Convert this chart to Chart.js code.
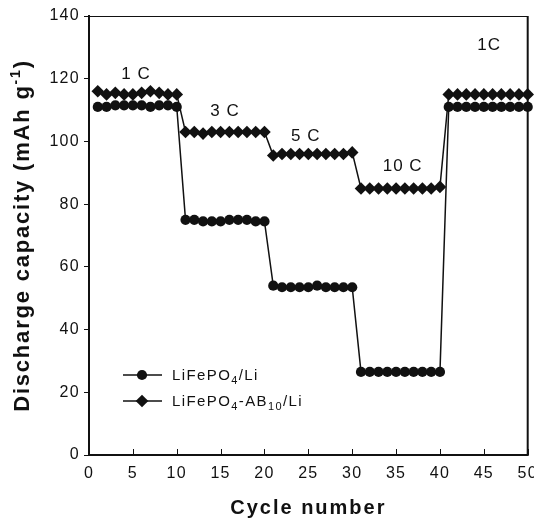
<!DOCTYPE html>
<html>
<head>
<meta charset="utf-8">
<script src="https://cdn.jsdelivr.net/npm/chart.js@4.4.1/dist/chart.umd.min.js"></script>
<style>
html, body { margin: 0; padding: 0; background: #fff; }
#wrap { width: 534px; height: 519px; position: relative; }
</style>
</head>
<body>
<div id="wrap"><canvas id="chart"></canvas></div>
<script>
// cycle numbers 1..50
const cycles = [
    1, 2, 3, 4, 5, 6, 7, 8, 9, 10,
    11, 12, 13, 14, 15, 16, 17, 18, 19, 20,
    21, 22, 23, 24, 25, 26, 27, 28, 29, 30,
    31, 32, 33, 34, 35, 36, 37, 38, 39, 40,
    41, 42, 43, 44, 45, 46, 47, 48, 49, 50
];
// LiFePO4/Li (circles)
const bareCapacity = [
    111, 111, 111.5, 111.5, 111.5, 111.5, 111, 111.5, 111.5, 111,
    75, 75, 74.5, 74.5, 74.5, 75, 75, 75, 74.5, 74.5,
    54, 53.5, 53.5, 53.5, 53.5, 54, 53.5, 53.5, 53.5, 53.5,
    26.5, 26.5, 26.5, 26.5, 26.5, 26.5, 26.5, 26.5, 26.5, 26.5,
    111, 111, 111, 111, 111, 111, 111, 111, 111, 111
];
// LiFePO4-AB10/Li (diamonds)
const abCapacity = [
    116, 115, 115.5, 115, 115, 115.5, 116, 115.5, 115, 115,
    103, 103, 102.5, 103, 103, 103, 103, 103, 103, 103,
    95.5, 96, 96, 96, 96, 96, 96, 96, 96, 96.5,
    85, 85, 85, 85, 85, 85, 85, 85, 85, 85.5,
    115, 115, 115, 115, 115, 115, 115, 115, 115, 115
];
const xTicks = [0, 5, 10, 15, 20, 25, 30, 35, 40, 45, 50];
const yTicks = [0, 20, 40, 60, 80, 100, 120, 140];
const rateLabels = ['1 C', '3 C', '5 C', '10 C', '1C'];
const rateLabelX = [5.35, 15.5, 24.7, 35.75, 45.6];
const rateLabelY = [121.5, 109.7, 101.6, 92, 130.7];
const seriesNames = [['LiFePO', '4', '/Li'], ['LiFePO', '4', '-AB', '10', '/Li']];

const FONT = '"Liberation Sans", Arial, Helvetica, sans-serif';
const INK = '#111';
const CIRCLE_R = 5.1;
const DIAMOND_R = 6.3;

function marker(ctx, style, x, y){
    ctx.beginPath();
    if(style === 'circle'){
        ctx.arc(x, y, CIRCLE_R, 0, Math.PI * 2);
    } else {
        const r = DIAMOND_R;
        ctx.moveTo(x, y - r);
        ctx.lineTo(x + r, y);
        ctx.lineTo(x, y + r);
        ctx.lineTo(x - r, y);
        ctx.closePath();
    }
    ctx.fill();
}

// draws pieces alternating normal / subscript (or superscript) text
function richText(ctx, parts, x, y, size, small, shift, weight){
    let cx = x;
    parts.forEach((p, i)=>{
        const isSmall = i % 2 === 1;
        ctx.font = `${weight} ${isSmall ? small : size}px ${FONT}`;
        ctx.fillText(p, cx, isSmall ? y + shift : y);
        cx += ctx.measureText(p).width;
    });
    return cx - x;
}
function richWidth(ctx, parts, size, small, weight){
    let w = 0;
    parts.forEach((p, i)=>{
        ctx.font = `${weight} ${i % 2 === 1 ? small : size}px ${FONT}`;
        w += ctx.measureText(p).width;
    });
    return w;
}

const spacingPlugin = {
    id: 'spacing',
    beforeDraw(chart){ chart.ctx.letterSpacing = '1.3px'; },
    afterDraw(chart){ chart.ctx.letterSpacing = '0px'; }
};

const decorPlugin = {
    id: 'decor',
    beforeDatasetsDraw(chart){
        const {ctx, chartArea: a, scales} = chart;
        ctx.save();
        ctx.strokeStyle = INK;
        // top and right frame
        ctx.lineWidth = 1;
        ctx.beginPath();
        ctx.moveTo(a.left, a.top + 0.5);
        ctx.lineTo(a.right, a.top + 0.5);
        ctx.stroke();
        ctx.lineWidth = 2;
        ctx.beginPath();
        ctx.moveTo(a.right, a.top);
        ctx.lineTo(a.right, a.bottom + 1);
        ctx.stroke();
        // inward ticks on x axis
        ctx.lineWidth = 1;
        xTicks.forEach(v=>{
            const px = Math.round(scales.x.getPixelForValue(v)) + 0.5;
            ctx.beginPath();
            ctx.moveTo(px, a.bottom);
            ctx.lineTo(px, a.bottom - 6);
            ctx.stroke();
        });
        ctx.restore();
    },
    afterDraw(chart){
        const {ctx, chartArea: a, scales} = chart;
        ctx.save();
        ctx.fillStyle = INK;
        ctx.strokeStyle = INK;

        // rate labels
        ctx.letterSpacing = '1px';
        ctx.font = `17px ${FONT}`;
        ctx.textAlign = 'center';
        ctx.textBaseline = 'middle';
        rateLabels.forEach((t, i)=>{
            ctx.fillText(t, scales.x.getPixelForValue(rateLabelX[i]), scales.y.getPixelForValue(rateLabelY[i]));
        });

        // legend
        ctx.textAlign = 'left';
        ctx.textBaseline = 'alphabetic';
        ctx.letterSpacing = '1.4px';
        const styles = ['circle', 'diamond'];
        seriesNames.forEach((parts, i)=>{
            const y = a.top + 359 + i * 26;
            ctx.lineWidth = 1.5;
            ctx.beginPath();
            ctx.moveTo(a.left + 34, y);
            ctx.lineTo(a.left + 73, y);
            ctx.stroke();
            marker(ctx, styles[i], a.left + 53, y);
            richText(ctx, parts, a.left + 83, y + 5, 15, 11, 4, 'normal');
        });

        // x title
        ctx.letterSpacing = '2px';
        ctx.font = `bold 20px ${FONT}`;
        ctx.textAlign = 'center';
        ctx.fillText('Cycle number', (a.left + a.right) / 2, 514);

        // y title with superscript
        ctx.textAlign = 'left';
        ctx.letterSpacing = '1.8px';
        const yParts = ['Discharge capacity (mAh g', '-1', ')'];
        const w = richWidth(ctx, yParts, 22, 14, 'bold');
        ctx.translate(29, (a.top + a.bottom) / 2);
        ctx.rotate(-Math.PI / 2);
        richText(ctx, yParts, -w / 2, 0, 22, 14, -9, 'bold');
        ctx.restore();
    }
};

const lineStyle = {
    borderColor: INK,
    backgroundColor: INK,
    borderWidth: 1.5,
    pointBackgroundColor: INK,
    pointBorderWidth: 0,
    pointHoverRadius: 5,
    tension: 0,
    clip: false
};

new Chart(document.getElementById('chart'), {
    type: 'line',
    data: {
        datasets: [
            Object.assign({
                label: 'LiFePO4/Li',
                data: cycles.map((c, i)=>({x: c, y: bareCapacity[i]})),
                pointStyle: 'circle',
                pointRadius: CIRCLE_R
            }, lineStyle),
            Object.assign({
                label: 'LiFePO4-AB10/Li',
                data: cycles.map((c, i)=>({x: c, y: abCapacity[i]})),
                pointStyle: 'rectRot',
                pointRadius: DIAMOND_R
            }, lineStyle)
        ]
    },
    options: {
        responsive: true,
        maintainAspectRatio: false,
        animation: false,
        layout: { padding: { left: 0, right: 6, top: 16, bottom: 0 } },
        plugins: {
            legend: { display: false },
            tooltip: { enabled: false }
        },
        scales: {
            x: {
                type: 'linear',
                min: 0,
                max: 50,
                afterBuildTicks: s=>{ s.ticks = xTicks.map(v=>({value: v})); },
                afterFit: s=>{ s.height = 64; s.paddingLeft = 0; s.paddingRight = 0; },
                grid: { display: false, drawTicks: false },
                border: { display: true, color: INK, width: 2 },
                ticks: {
                    color: INK,
                    padding: 9,
                    maxRotation: 0,
                    autoSkip: false,
                    font: { family: FONT, size: 16 }
                }
            },
            y: {
                min: 0,
                max: 140,
                afterBuildTicks: s=>{ s.ticks = yTicks.map(v=>({value: v})); },
                afterFit: s=>{ s.width = 89; s.paddingTop = 0; s.paddingBottom = 0; },
                grid: { drawOnChartArea: false, drawTicks: true, tickLength: 5, color: INK, lineWidth: 1 },
                border: { display: true, color: INK, width: 2 },
                ticks: {
                    color: INK,
                    padding: 4,
                    autoSkip: false,
                    font: { family: FONT, size: 16 }
                }
            }
        }
    },
    plugins: [spacingPlugin, decorPlugin]
});
</script>
</body>
</html>
